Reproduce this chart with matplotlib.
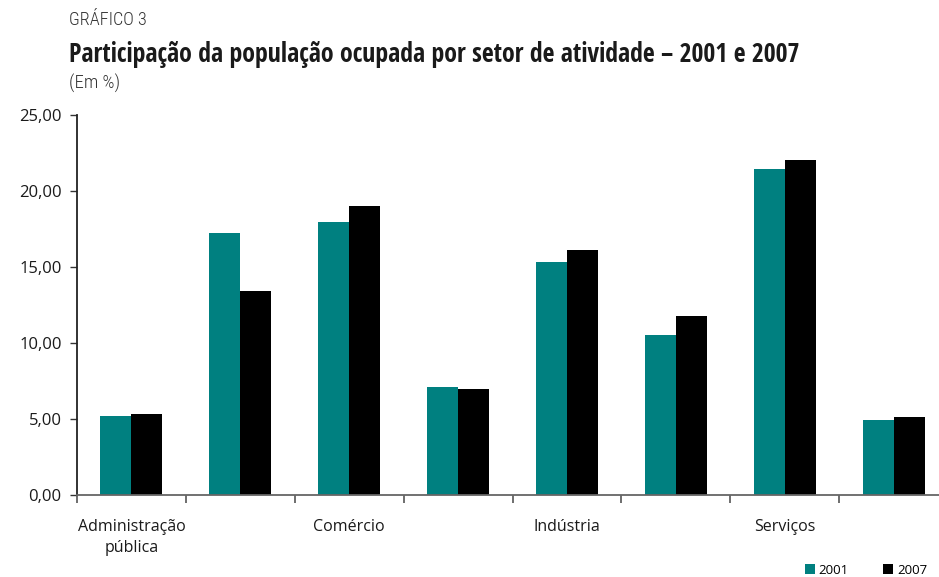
import matplotlib
matplotlib.use("Agg")
import matplotlib.pyplot as plt
import numpy as np

# Employed population share by sector of activity (%)
categories = ["Administração\npública", "", "Comércio", "", "Indústria", "", "Serviços", ""]
values_2001 = [5.20, 17.24, 17.96, 7.10, 15.33, 10.53, 21.45, 4.93]
values_2007 = [5.33, 13.42, 19.01, 6.97, 16.12, 11.78, 22.04, 5.13]
series_names = ["2001", "2007"]
y_ticks = [0, 5, 10, 15, 20, 25]

TEAL = "#008080"
BLACK = "#000000"
FONT = "Open Sans"
COND = "Open Sans Condensed"
COND_LIGHT = "Roboto Condensed"

fig = plt.figure(figsize=(9.39, 5.77), dpi=100)
ax = fig.add_axes([77 / 939, 82 / 577, 871 / 939, 380 / 577])

x = np.arange(len(categories))
bw = 0.285
ax.bar(x - bw / 2, values_2001, width=bw, color=TEAL, label=series_names[0], zorder=2)
ax.bar(x + bw / 2, values_2007, width=bw, color=BLACK, label=series_names[1], zorder=2)

ax.set_xlim(-0.5, len(categories) - 0.5)
ax.set_ylim(0, 25)
ax.set_yticks(y_ticks)
ax.set_yticklabels([f"{v:.2f}".replace(".", ",") for v in y_ticks],
                   fontfamily=FONT, fontsize=12, color="#1a1a1a")

# category boundaries carry the ticks, labels sit at the centres
ax.set_xticks(np.arange(len(categories) + 1) - 0.5)
ax.set_xticklabels([])
ax.set_xticks(x, minor=True)
ax.set_xticklabels(categories, minor=True, fontfamily=FONT, fontsize=11.5,
                   linespacing=1.45, color="#1a1a1a")
ax.tick_params(axis="x", which="minor", length=0, pad=17)
ax.tick_params(axis="x", which="major", direction="out", length=6,
               width=1.2, color="#555555")
ax.tick_params(axis="y", direction="out", length=5, width=1, color="#333333", pad=6)

for side in ("top", "right"):
    ax.spines[side].set_visible(False)
ax.spines["left"].set_color("#222222")
ax.spines["left"].set_linewidth(1.3)
ax.spines["bottom"].set_color("#666666")
ax.spines["bottom"].set_linewidth(1.3)

label = fig.text(69 / 939, 1 - 20 / 577, "GRÁFICO 3", fontfamily=COND_LIGHT,
                 fontweight="light", fontsize=12.5, color="#333333",
                 va="center", ha="left")
title = fig.text(69 / 939, 1 - 54 / 577,
                 "Participação da população ocupada por setor de atividade – 2001 e 2007",
                 fontfamily=COND, fontweight="bold", fontsize=15,
                 color="#1a1a1a", va="center", ha="left")
unit = fig.text(69 / 939, 1 - 83 / 577, "(Em %)", fontfamily=COND_LIGHT,
                fontweight="light", fontsize=12.5, color="#333333",
                va="center", ha="left")

# size the header texts so each spans its intended width
renderer = fig.canvas.get_renderer()
for txt, target in ((title, 734), (label, 78), (unit, 51)):
    w = txt.get_window_extent(renderer).width
    txt.set_fontsize(txt.get_fontsize() * target / w)

fig.legend(loc="center right", bbox_to_anchor=(939 / 939, 1 - 570 / 577),
           ncol=2, frameon=False, handlelength=0.75, handleheight=0.75,
           handletextpad=0.3, columnspacing=2.6,
           prop={"family": FONT, "size": 9.5})

fig.savefig("out.png", dpi=100)
